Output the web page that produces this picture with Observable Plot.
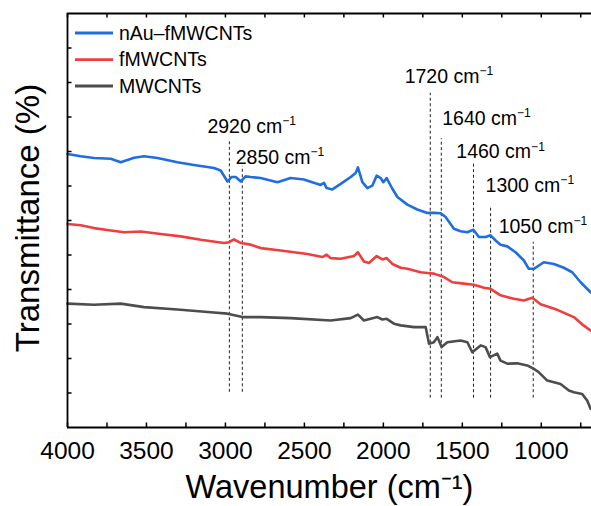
<!DOCTYPE html>
<html><head><meta charset="utf-8">
<script src="https://cdn.jsdelivr.net/npm/d3@7"></script>
<script src="https://cdn.jsdelivr.net/npm/@observablehq/plot@0.6"></script>
<style>
body{margin:0;background:#fff;font-family:"Liberation Sans",Arial,sans-serif}
#chart svg{display:block}
</style>
</head><body><div id="chart"></div>
<script>
// ---- data ----
const seriesNames = ["nAu–fMWCNTs", "fMWCNTs", "MWCNTs"];
const seriesColors = ["#1f6ee0", "#ef3e3e", "#4d4d4d"];

const blueWn = [4000,3916,3832,3726,3663,3578,3515,3430,3304,3199,3072,3030,2987,2962,2935,2903,2872,2840,2777,2671,2587,2503,2397,2376,2359,2323,2270,2207,2175,2161,2133,2101,2070,2042,2017,2000,1979,1943,1911,1848,1785,1722,1680,1637,1606,1553,1511,1468,1430,1395,1353,1321,1289,1258,1215,1163,1110,1079,1047,984,920,857,804,751,688];
const blueT = [7.93,7.86,7.81,7.79,7.69,7.82,7.86,7.81,7.69,7.61,7.52,7.45,7.13,7.26,7.26,7.13,7.28,7.26,7.23,7.11,7.23,7.19,7.03,7.09,6.94,6.90,7.06,7.26,7.38,7.54,7.11,6.94,7.01,7.30,7.23,7.11,7.23,6.92,6.68,6.46,6.32,6.22,6.22,6.21,6.10,5.76,5.69,5.66,5.73,5.52,5.52,5.57,5.42,5.30,5.25,5.08,4.84,4.60,4.60,4.79,4.74,4.63,4.50,4.21,3.92];

const redWn = [4000,3916,3832,3726,3642,3536,3410,3283,3156,3009,2977,2946,2903,2840,2777,2650,2481,2386,2359,2334,2270,2186,2161,2123,2091,2042,2006,1979,1943,1890,1848,1764,1722,1680,1616,1563,1490,1427,1363,1321,1258,1173,1110,1057,1004,899,794,741,688];
const redT = [5.90,5.86,5.78,5.71,5.66,5.68,5.61,5.54,5.44,5.35,5.37,5.45,5.35,5.30,5.20,5.13,5.03,4.94,5.01,4.91,4.89,4.97,5.08,4.81,4.77,4.97,4.87,4.91,4.74,4.63,4.60,4.50,4.48,4.46,4.36,4.21,4.17,4.14,4.05,4.02,3.83,3.73,3.68,3.76,3.57,3.41,3.20,2.99,2.81];

const grayWn = [4000,3832,3663,3515,3304,3093,2987,2892,2777,2587,2334,2207,2161,2123,2038,2006,1979,1933,1890,1806,1732,1711,1680,1658,1631,1595,1511,1468,1437,1384,1353,1325,1279,1258,1215,1152,1089,1047,1015,962,920,878,825,794,741,709,688];
const grayT = [3.59,3.56,3.59,3.49,3.42,3.34,3.30,3.20,3.20,3.17,3.10,3.17,3.27,3.10,3.20,3.13,3.15,3.01,2.96,2.91,2.91,2.43,2.47,2.62,2.33,2.47,2.52,2.47,2.18,2.38,2.33,2.04,2.14,1.94,1.85,1.86,1.80,1.70,1.60,1.36,1.31,1.26,1.07,1.02,0.97,0.78,0.54];

const peakLabels = ["2920 cm⁻¹","2850 cm⁻¹","1720 cm⁻¹","1640 cm⁻¹","1460 cm⁻¹","1300 cm⁻¹","1050 cm⁻¹"];
const peakLineX = [2975,2893,1703,1633,1429,1321,1051];
const peakLineTop = [8.35,7.57,9.69,8.37,7.67,6.41,5.37];
const peakLineBottom = [1.02,1.02,0.85,0.85,0.85,0.85,0.85];
const peakLabelX = [3114,2935,1865,1627,1538,1353,1270];
const peakLabelY = [8.72,7.83,10.17,8.95,7.98,7.01,5.83];

const xTickLabels = [4000,3500,3000,2500,2000,1500,1000];
const xTicksAll = [4000,3750,3500,3250,3000,2750,2500,2250,2000,1750,1500,1250,1000,750];
const yTicks = [1,2,3,4,5,6,7,8,9,10,11];
const xLabel = "Wavenumber (cm⁻¹)";
const yLabel = "Transmittance (%)";

// ---- build tables ----
const toRows = (wn, t, s) => wn.map((w, i) => ({wn: w, t: t[i], s}));
const rows = [
  ...toRows(blueWn, blueT, seriesNames[0]),
  ...toRows(redWn, redT, seriesNames[1]),
  ...toRows(grayWn, grayT, seriesNames[2])
];
const peaks = peakLabels.map((l, i) => ({
  label: l, x: peakLineX[i], y1: peakLineBottom[i], y2: peakLineTop[i],
  lx: peakLabelX[i], ly: peakLabelY[i]
}));

const W = 591, H = 506, mL = 67, mR = 0, mT = 13, mB = 79;
const fw = W - mL - mR, fh = H - mT - mB;
const FONT = '"Liberation Sans", Arial, sans-serif';

const plot = Plot.plot({
  width: W, height: H,
  marginLeft: mL, marginRight: mR, marginTop: mT, marginBottom: mB,
  x: {domain: [4000, 682], axis: null},
  y: {domain: [0, 12], axis: null},
  color: {domain: seriesNames, range: seriesColors},
  style: {fontFamily: FONT, background: "#fff", color: "#000", overflow: "visible"},
  marks: [
    Plot.ruleX(peaks, {x: "x", y1: "y1", y2: "y2", stroke: "#222", strokeWidth: 1, strokeDasharray: "3,2.5"}),
    Plot.line(rows, {x: "wn", y: "t", z: "s", stroke: "s", strokeWidth: 2.6, strokeLinejoin: "round", strokeLinecap: "round"}),
    Plot.text(peaks, {x: "lx", y: "ly", text: "label", textAnchor: "start", lineAnchor: "middle", fontSize: 19.5, fill: "#000"}),
    Plot.tickX(xTicksAll, {x: d => d, insetTop: fh - 4.5, stroke: "#000", strokeWidth: 1.5}),
    Plot.tickX(xTicksAll, {x: d => d, insetBottom: fh - 4.5, stroke: "#000", strokeWidth: 1.5}),
    Plot.tickY(yTicks, {y: d => d, insetRight: fw - 4.5, stroke: "#000", strokeWidth: 1.5}),
    Plot.ruleX([4000], {stroke: "#000", strokeWidth: 1.8}),
    Plot.ruleY([0], {stroke: "#000", strokeWidth: 1.8}),
    Plot.ruleY([12], {stroke: "#000", strokeWidth: 1.8}),
    Plot.axisX({ticks: xTickLabels, tickSize: 0, tickPadding: 14, fontSize: 24.5, tickFormat: d => String(d), label: null, anchor: "bottom"}),
    Plot.text([xLabel], {frameAnchor: "bottom", dy: 60.5, lineAnchor: "middle", fontSize: 32.5, fill: "#000"})
  ]
});

document.getElementById("chart").append(plot);

const svg = d3.select(plot);

// y-axis title
svg.append("text")
  .attr("transform", `translate(${mL - 39.5},${(mT + H - mB) / 2 - 2}) rotate(-90)`)
  .attr("text-anchor", "middle").attr("dy", "0.35em")
  .attr("font-family", FONT).attr("font-size", 33).attr("fill", "#000")
  .text(yLabel);

// superscripts for "cm⁻¹"
svg.selectAll("text").each(function () {
  const t = this.textContent;
  if (t.endsWith("⁻¹")) {
    this.textContent = t.slice(0, -2);
    d3.select(this).append("tspan").attr("font-size", "0.62em").attr("dy", "-0.62em").text("−1");
  }
});

// legend
const legendY = [33, 59.7, 86];
const lg = svg.append("g").attr("font-family", FONT).attr("text-anchor", "start");
seriesNames.forEach((name, i) => {
  lg.append("line").attr("x1", 75).attr("x2", 113).attr("y1", legendY[i]).attr("y2", legendY[i])
    .attr("stroke", seriesColors[i]).attr("stroke-width", 2.8);
  lg.append("text").attr("x", 119).attr("y", legendY[i] + 6.6).attr("font-size", 19.5).attr("fill", "#000").text(name);
});
</script>
</body></html>
